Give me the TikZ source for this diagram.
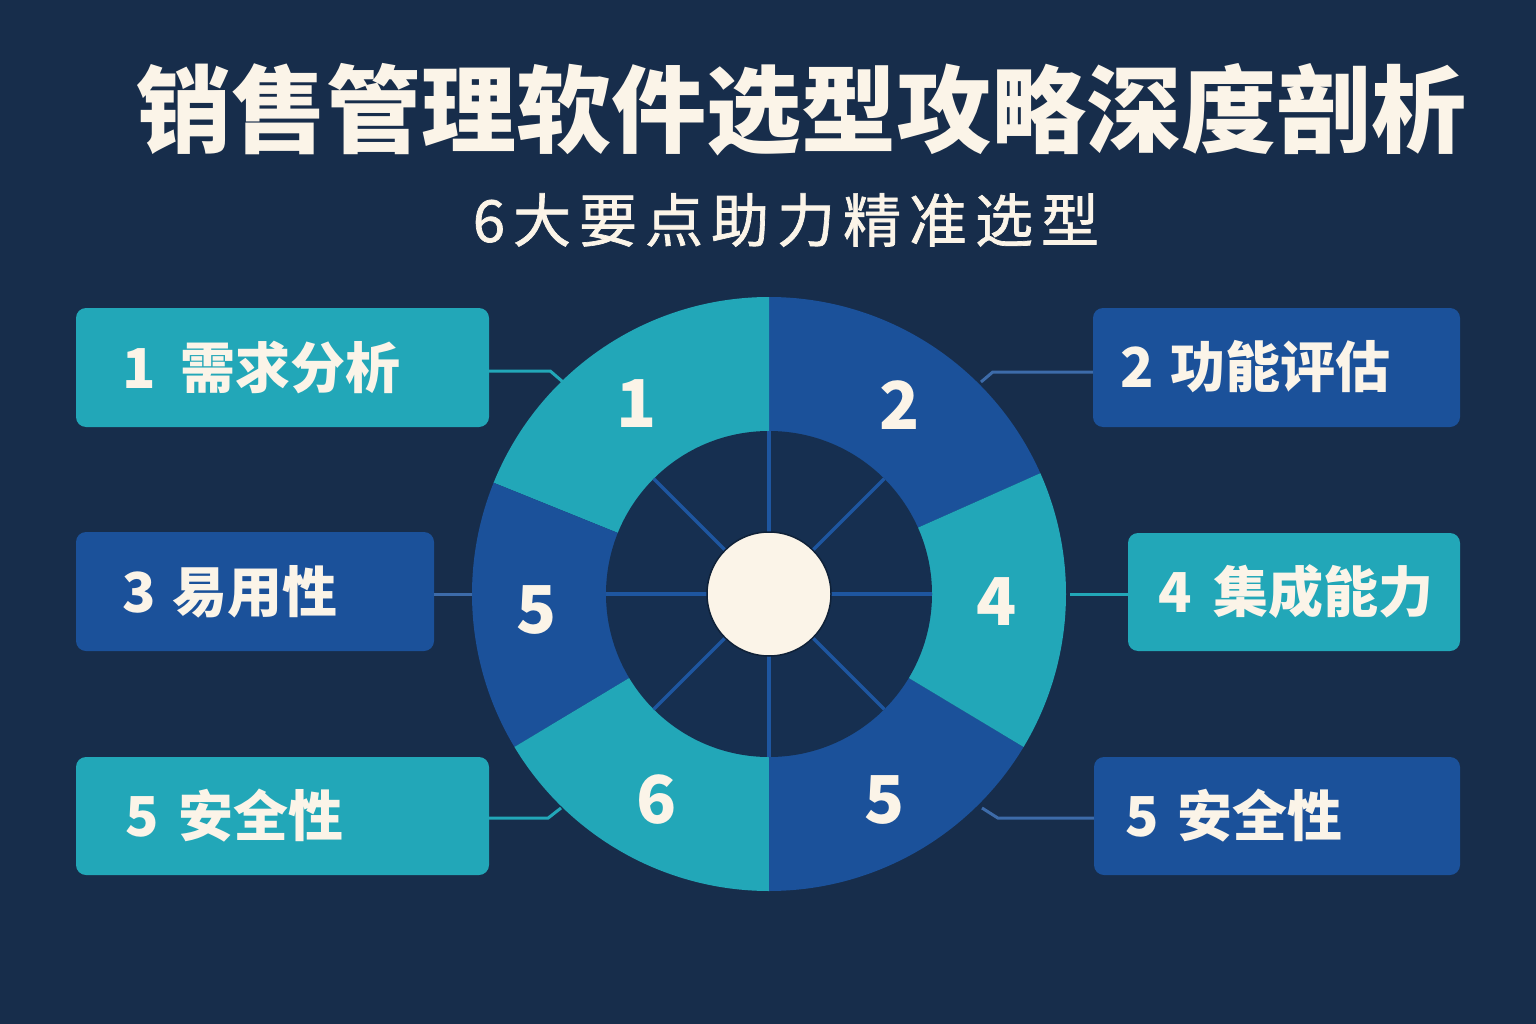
\documentclass[tikz,border=0pt]{standalone}
\usepackage{fontspec}
\newfontfamily\cjk{Noto Sans CJK SC}
\newfontfamily\cjkmed[FakeBold=1.2]{Noto Sans CJK SC}
\definecolor{bg}{HTML}{172D4B}
\definecolor{tealc}{HTML}{22A7B8}
\definecolor{bluec}{HTML}{1B519A}
\definecolor{innerc}{HTML}{162F50}
\definecolor{spokec}{HTML}{1E56A0}
\definecolor{creamc}{HTML}{FBF4E8}
\newcommand{\sg}{\hspace{8pt}}
\tikzset{
  boxn/.style={rectangle, rounded corners=10pt, inner sep=0pt},
  lab/.style={anchor=west, inner sep=0pt, text=creamc, font=\cjk\bfseries\fontsize{55}{60}\selectfont},
  num/.style={inner sep=0pt, text=creamc, font=\cjk\bfseries\fontsize{66}{70}\selectfont},
  conn/.style={line width=3pt},
  spoke/.style={line width=3.5pt, draw=spokec}
}
\begin{document}
\begin{tikzpicture}[x=1pt,y=-1pt]
\fill[bg] (0,0) rectangle (1536,1024);
\useasboundingbox (0,0) rectangle (1536,1024);

% titles
\node[inner sep=0pt, text=creamc, font=\cjk\bfseries\fontsize{95}{100}\selectfont] (title) at (801,110) {销售管理软件选型攻略深度剖析};
\node[inner sep=0pt, text=creamc, font=\cjkmed\fontsize{58}{62}\selectfont] (sub) at (786,220) {6\sg 大\sg 要\sg 点\sg 助\sg 力\sg 精\sg 准\sg 选\sg 型};

% ring
\begin{scope}[shift={(769,594)}, x=1pt, y=1pt]
  \fill[bluec] (0,0) -- (24:297) arc[start angle=24, end angle=90, radius=297] -- cycle;
  \fill[tealc] (0,0) -- (90:297) arc[start angle=90, end angle=158, radius=297] -- cycle;
  \fill[bluec] (0,0) -- (158:297) arc[start angle=158, end angle=211, radius=297] -- cycle;
  \fill[tealc] (0,0) -- (211:297) arc[start angle=211, end angle=270, radius=297] -- cycle;
  \fill[bluec] (0,0) -- (270:297) arc[start angle=270, end angle=329, radius=297] -- cycle;
  \fill[tealc] (0,0) -- (329:297) arc[start angle=329, end angle=384, radius=297] -- cycle;
  \fill[innerc] (0,0) circle[radius=163];
  \foreach \a in {0,45,...,315} {\draw[spoke] (\a:60) -- (\a:163);}
  \filldraw[fill=creamc, draw=innerc!70!black, line width=1.5pt] (0,0) circle[radius=62];
\end{scope}

% ring numbers
\node[num] (n1) at (637,404) {1};
\node[num] (n2) at (900,405) {2};
\node[num] (n4) at (997,602) {4};
\node[num] (n5r) at (885,800) {5};
\node[num] (n6) at (657,800) {6};
\node[num] (n5l) at (537,610) {5};

% ring anchor points
\coordinate (r1) at (563,382);
\coordinate (r2) at (981,382);
\coordinate (r3) at (472,594);
\coordinate (r4) at (1070,594);
\coordinate (r5) at (561,808);
\coordinate (r6) at (982,808);

% boxes
\node[boxn, fill=tealc, minimum width=413pt, minimum height=119pt] (b1) at (282.5,367.5) {};
\node[boxn, fill=bluec, minimum width=367pt, minimum height=119pt] (b2) at (1276.5,367.5) {};
\node[boxn, fill=bluec, minimum width=358pt, minimum height=119pt] (b3) at (255,591.5) {};
\node[boxn, fill=tealc, minimum width=332pt, minimum height=118pt] (b4) at (1294,592) {};
\node[boxn, fill=tealc, minimum width=413pt, minimum height=118pt] (b5) at (282.5,816) {};
\node[boxn, fill=bluec, minimum width=366pt, minimum height=118pt] (b6) at (1277,816) {};

% connectors
\draw[conn, tealc] ([yshift=-3.5pt]b1.east) -- ++(61,0) -- (r1);
\draw[conn, bluec!85!white] ([yshift=-4.5pt]b2.west) -- ++(-100,0) -- (r2);
\draw[conn, bluec!85!white] ([yshift=-2.5pt]b3.east) -- (r3);
\draw[conn, tealc] ([yshift=-2pt]b4.west) -- (r4);
\draw[conn, tealc] ([yshift=-2pt]b5.east) -- ++(59,0) -- (r5);
\draw[conn, bluec!85!white] ([yshift=-2pt]b6.west) -- ++(-96,0) -- (r6);

% labels
\node[lab] (t1) at (122,367) {1\hspace{25pt}需求分析};
\node[lab] (t2) at (1120,367) {2\hspace{17pt}功能评估};
\node[lab] (t3) at (122,592) {3\hspace{17pt}易用性};
\node[lab] (t4) at (1158,592) {4\hspace{22pt}集成能力};
\node[lab] (t5) at (125,816) {5\hspace{20pt}安全性};
\node[lab] (t6) at (1125,816) {5\hspace{19pt}安全性};
\end{tikzpicture}
\end{document}
